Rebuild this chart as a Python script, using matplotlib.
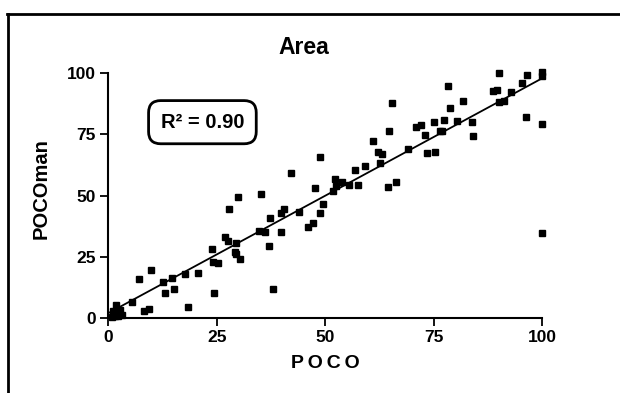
import numpy as np
import matplotlib
matplotlib.use("Agg")
import matplotlib.pyplot as plt
from matplotlib.lines import Line2D

poco = [48.8, 42.1, 47.6, 49.6, 48.7, 47.1, 46.1, 44.0, 39.8, 40.4,
        35.3, 30.0, 27.9, 37.3, 34.8, 36.2, 39.8, 37.0, 37.9, 27.0,
        27.7, 29.4, 29.1, 29.4, 30.4, 24.0, 24.2, 25.2, 24.4, 20.6,
        17.7, 18.3, 14.7, 12.5, 15.2, 13.0, 9.8, 7.1, 9.4, 8.2, 5.4,
        1.8, 1.0, 2.0, 3.1, 1.3, 2.3, 0.9, 2.6, 1.5,
        100.0, 100.0, 96.6, 90.0, 95.4, 88.8, 89.6, 92.8, 90.1, 91.3,
        78.4, 81.7, 78.7, 80.3, 83.8, 84.0, 96.2, 100.0, 100.0, 77.3,
        75.1, 76.5, 77.0, 72.1, 70.9, 73.1, 65.3, 64.7, 61.1, 62.2,
        63.2, 69.1, 73.4, 75.4, 62.7, 59.3, 56.8, 52.3, 53.8, 52.6,
        51.8, 55.4, 57.6, 64.6, 66.3]
pocoman = [65.9, 59.1, 52.9, 46.4, 43.0, 38.6, 37.2, 43.2, 43.0, 44.3,
           50.5, 49.4, 44.3, 40.9, 35.5, 35.2, 35.2, 29.3, 11.9, 33.1,
           31.4, 30.7, 27.0, 25.9, 24.2, 28.2, 22.9, 22.5, 10.0, 18.4,
           18.0, 4.5, 16.1, 14.7, 11.6, 10.0, 19.5, 15.8, 3.6, 2.9, 6.3,
           5.0, 2.7, 1.2, 1.2, 1.8, 0.5, 0.3, 3.0, 0.8,
           100.5, 98.9, 99.3, 100.0, 96.2, 92.8, 93.0, 92.2, 88.4, 88.7,
           94.8, 88.7, 85.9, 80.5, 79.9, 74.5, 82.2, 79.3, 34.5, 81.0,
           79.9, 76.5, 76.4, 78.8, 78.0, 74.8, 87.7, 76.4, 72.4, 67.7,
           67.1, 69.1, 67.3, 67.7, 63.2, 62.1, 60.6, 56.8, 55.4, 53.9,
           52.0, 54.3, 54.4, 53.6, 55.5]
ticks = [0, 25, 50, 75, 100]
r2_label = "R² = 0.90"

plt.rcParams['font.family'] = ['Liberation Sans', 'DejaVu Sans']
fig = plt.figure(figsize=(6.2, 3.93), dpi=100)
ax = fig.add_axes([108.3/620, 75.3/393, 433.7/620, 244.4/393])

ax.plot(poco, pocoman, linestyle='none', marker='s', markersize=4.3,
        color='black', clip_on=False, zorder=3)

slope, intercept = np.polyfit(poco, pocoman, 1)
xl = np.array([0, 100])
ax.plot(xl, intercept + slope * xl, color='black', lw=1.3, clip_on=False)

ax.set_xlim(0, 100)
ax.set_ylim(0, 100)
ax.set_xticks(ticks)
ax.set_yticks(ticks)
for s in ['top', 'right']:
    ax.spines[s].set_visible(False)
for s in ['left', 'bottom']:
    ax.spines[s].set_linewidth(1.5)
ax.tick_params(direction='out', length=6, width=1.3, labelsize=12.5, pad=3)
for lab in ax.get_xticklabels() + ax.get_yticklabels():
    lab.set_fontweight('bold')

ax.set_xlabel("P\u2009O\u2009C\u2009O", fontsize=14, fontweight='bold')
ax.xaxis.set_label_coords(0.5, -0.153)
ax.set_ylabel("POCOman", fontsize=14.5, fontweight='bold')
ax.yaxis.set_label_coords(-0.134, 0.53)

fig.text(304/620, 1 - 48/393, "Area", ha='center', va='center',
         fontsize=16.5, fontweight='bold')

ax.text(0.217, 0.80, r2_label, transform=ax.transAxes, ha='center', va='center',
        fontsize=14.5, fontweight='bold',
        bbox=dict(boxstyle='round,pad=0.6,rounding_size=0.6', fc='white',
                  ec='black', lw=2))

fig.add_artist(Line2D([7/620, 1], [1 - 14/393, 1 - 14/393], color='black', lw=2))
fig.add_artist(Line2D([8/620, 8/620], [0, 1 - 14/393], color='black', lw=2))

fig.savefig("out.png", dpi=100)
